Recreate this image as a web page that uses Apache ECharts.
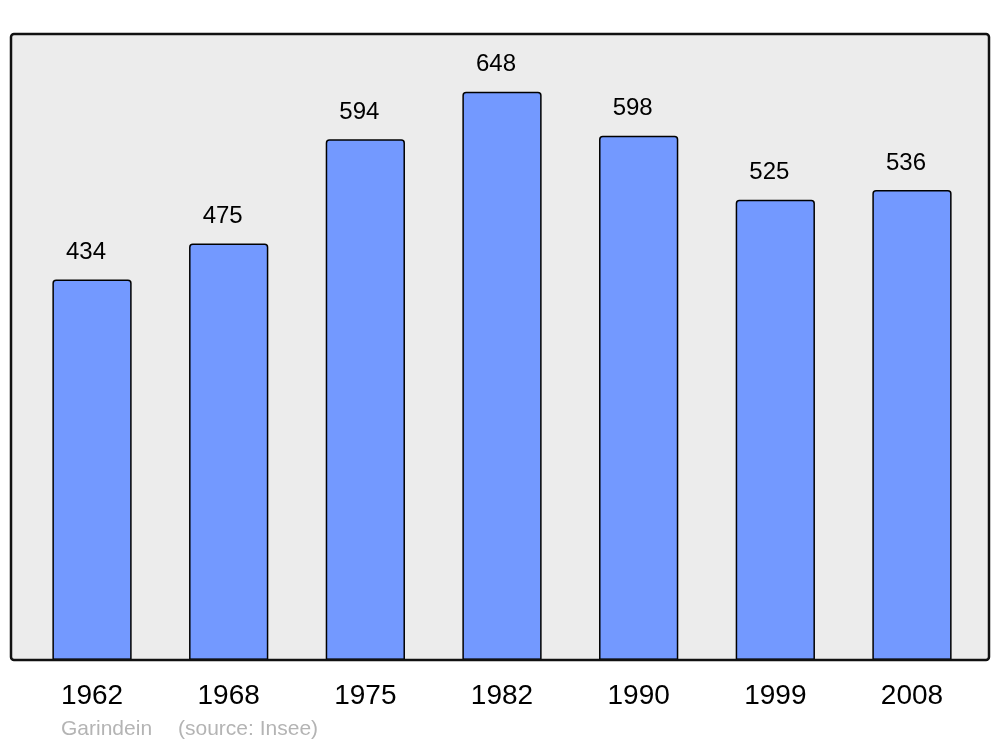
<!DOCTYPE html>
<html>
<head>
<meta charset="utf-8">
<script src="https://cdn.jsdelivr.net/npm/echarts@6/dist/echarts.min.js"></script>
<style>
  html, body { margin: 0; padding: 0; background: #fff; }
  #chart { width: 1000px; height: 747px; }
</style>
</head>
<body>
<div id="chart"></div>
<script>
  // population by census year
  var years = ['1962', '1968', '1975', '1982', '1990', '1999', '2008'];
  var population = [434, 475, 594, 648, 598, 525, 536];

  var chart = echarts.init(document.getElementById('chart'));
  var font = '"Liberation Sans", Arial, sans-serif';

  chart.setOption({
    animation: false,
    grid: { left: 23.7, right: 19.7, top: 34, bottom: 87 },
    xAxis: {
      type: 'category',
      data: years,
      axisLine: { show: false },
      axisTick: { show: false },
      axisLabel: { fontSize: 28, color: '#000', fontFamily: font, margin: 22 }
    },
    yAxis: { type: 'value', min: 0, max: 714, show: false },
    graphic: [
      { type: 'rect', z: -10, shape: { x: 11, y: 34, width: 978, height: 626, r: 3 },
        style: { fill: '#ececec' } },
      { type: 'rect', z: 100, shape: { x: 11, y: 34, width: 978, height: 626, r: 3 },
        style: { fill: 'none', stroke: '#111', lineWidth: 2.5 } },
      { type: 'text', left: 61, top: 719,
        style: { text: 'Garindein', fill: '#b4b4b4', fontSize: 21, fontFamily: font } },
      { type: 'text', left: 178, top: 719,
        style: { text: '(source: Insee)', fill: '#b4b4b4', fontSize: 21, fontFamily: font } }
    ],
    series: [{
      type: 'bar',
      data: population,
      barWidth: '58%',
      itemStyle: { color: '#7399ff', borderColor: '#000', borderWidth: 1.5, borderRadius: [3, 3, 0, 0] },
      label: {
        show: true, position: 'top', distance: 15, offset: [-6, 0],
        fontSize: 24, color: '#000', fontFamily: font
      }
    }]
  });
</script>
</body>
</html>
